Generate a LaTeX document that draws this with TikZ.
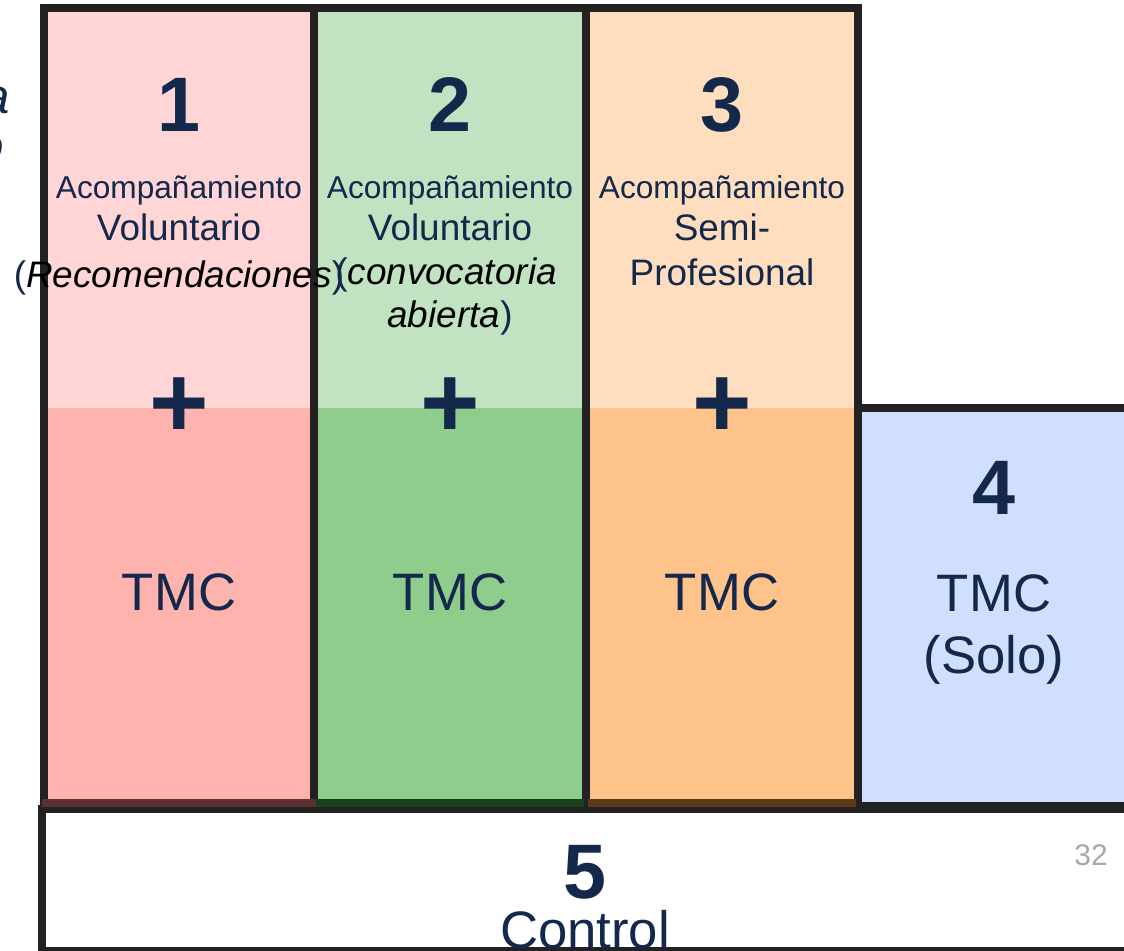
\documentclass[tikz,border=0pt]{standalone}
\usepackage{fontspec}
\setmainfont{Liberation Sans}
\usetikzlibrary{positioning}

\definecolor{navy}{HTML}{14284B}
\definecolor{framegray}{HTML}{222222}
\definecolor{pinklight}{HTML}{FFD5D5}
\definecolor{pinkdark}{HTML}{FFB3AF}
\definecolor{pinkband}{HTML}{5A3030}
\definecolor{greenlight}{HTML}{C1E3C1}
\definecolor{greendark}{HTML}{8FCD8D}
\definecolor{greenband}{HTML}{1C3F1C}
\definecolor{orangelight}{HTML}{FFDEBF}
\definecolor{orangedark}{HTML}{FDC38B}
\definecolor{orangeband}{HTML}{5A3A1A}
\definecolor{bluelight}{HTML}{D0DFFF}
\definecolor{pagenum}{HTML}{A3A7AE}

\begin{document}
\begin{tikzpicture}[x=0.02cm,y=-0.02cm,
  frame/.style={draw=framegray,line width=4.5pt},
  band/.style={line width=4.5pt},
  num/.style={text=navy,anchor=base,font=\fontsize{44}{48}\selectfont\bfseries},
  small/.style={text=navy,anchor=base,font=\fontsize{18}{20}\selectfont},
  mid/.style={text=navy,anchor=base,font=\fontsize{21}{24}\selectfont},
  big/.style={text=navy,anchor=base,font=\fontsize{30}{34}\selectfont},
  plus/.style={text=navy,font=\fontsize{58}{60}\selectfont\bfseries,inner sep=0pt}]
\useasboundingbox (0,0) rectangle (1124,950);
\clip (0,0) rectangle (1124,950);

% fills
\fill[pinklight] (44,8) rectangle (314,408);
\fill[pinkdark] (44,408) rectangle (314,804);
\fill[greenlight] (314,8) rectangle (586,408);
\fill[greendark] (314,408) rectangle (586,804);
\fill[orangelight] (586,8) rectangle (858,408);
\fill[orangedark] (586,408) rectangle (858,804);
\fill[bluelight] (858,408) rectangle (1124,806);

% frames
\draw[frame] (44,8) rectangle (314,805);
\draw[frame] (314,8) rectangle (586,805);
\draw[frame] (586,8) rectangle (858,805);
\draw[frame] (858,408) -- (1140,408);
\draw[frame] (858,806) -- (1140,806);
\draw[frame] (1140,809) -- (42,809) -- (42,951) -- (1140,951);
\draw[band,pinkband] (42,803) -- (316,803);
\draw[band,greenband] (316,803) -- (584,803);
\draw[band,orangeband] (588,803) -- (856,803);

% left edge, cut off
\node[text=navy,anchor=base east,font=\fontsize{28}{30}\selectfont\itshape] (cuta) at (16,113) {a};
\node[text=navy,anchor=base east,font=\fontsize{28}{30}\selectfont\itshape] (cuto) at (10,162) {o};

% column 1
\node[num] (n1) at (179,131) {1};
\node[small] (acomp1) at (179,198) {Acompañamiento};
\node[mid] (vol1) at (179,240) {Voluntario};
\node[mid] (reco) at (179,287) {(\textcolor{black}{\itshape Recomendaciones})};
\node[plus] (plus1) at (179,408) {+};
\node[big] (tmc1) at (179,610) {TMC};

% column 2
\node[num] (n2) at (450,131) {2};
\node[small] (acomp2) at (450,198) {Acompañamiento};
\node[mid] (vol2) at (450,240) {Voluntario};
\node[mid] (conv) at (446,284) {(\textcolor{black}{\itshape convocatoria}};
\node[mid] (abie) at (450,327) {\textcolor{black}{\itshape abierta})};
\node[plus] (plus2) at (450,408) {+};
\node[big] (tmc2) at (450,610) {TMC};

% column 3
\node[num] (n3) at (722,131) {3};
\node[small] (acomp3) at (722,198) {Acompañamiento};
\node[mid] (semi) at (722,240) {Semi-};
\node[mid] (prof) at (722,285) {Profesional};
\node[plus] (plus3) at (722,408) {+};
\node[big] (tmc3) at (722,610) {TMC};

% box 4
\node[num] (n4) at (994,514) {4};
\node[big] (tmc4) at (994,611) {TMC};
\node[big] (solo) at (994,673) {(Solo)};

% box 5
\node[num] (n5) at (585,898) {5};
\node[big] (ctrl) at (585,948) {Control};
\node[text=pagenum,anchor=base,font=\fontsize{17}{19}\selectfont] (page) at (1091,865) {32};
\end{tikzpicture}
\end{document}
